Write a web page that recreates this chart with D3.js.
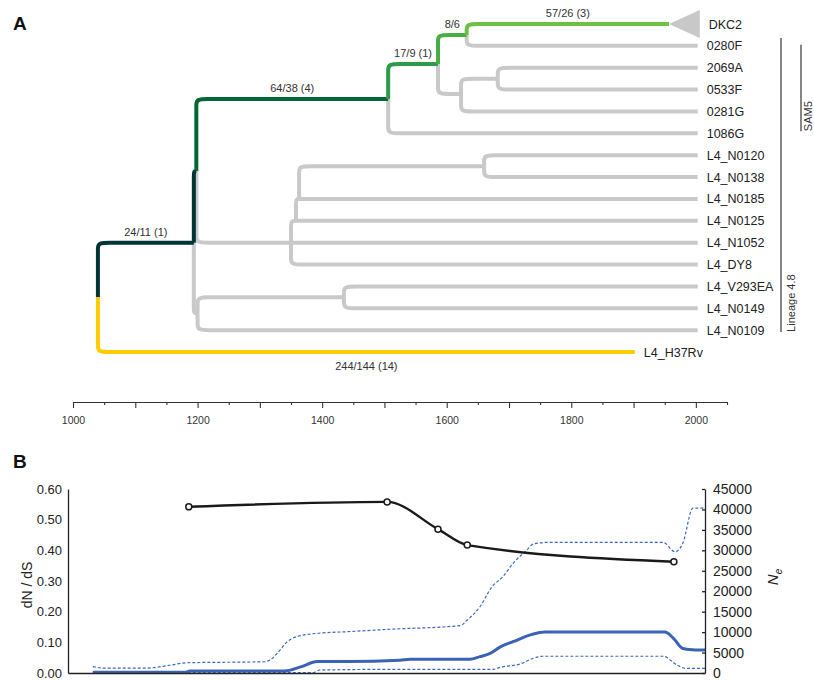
<!DOCTYPE html>
<html>
<head>
<meta charset="utf-8">
<script src="https://cdn.jsdelivr.net/npm/d3@7"></script>
<style>
  body { margin: 0; background: #fff; }
  svg { font-family: "Liberation Sans", Arial, Helvetica, sans-serif; }
</style>
</head>
<body>
<div id="chart"></div>
<script>
// ---- panel A data ----
// tree nodes: id, parent, year of node, row (leaf rows 0..15, internal rows)
const treeNodes = [
  ["R", null, 1040, 12.5],
  ["A", "R", 1194, 10],
  ["A2", "A", 1198, 6.72],
  ["S", "A2", 1506, 3.43],
  ["C437", "S", 1586, 1.83],
  ["C466", "C437", 1632, 0.5],
  ["DKC2", "C466", 1957, 0],
  ["0280F", "C466", 2003, 1],
  ["C461", "C437", 1623, 3.2],
  ["C495", "C461", 1682, 2.5],
  ["2069A", "C495", 2003, 2],
  ["0533F", "C495", 2003, 3],
  ["0281G", "C461", 2003, 4],
  ["1086G", "S", 2003, 5],
  ["E1", "A2", 1350, 10],
  ["E2", "E1", 1358, 9],
  ["E3", "E2", 1363, 8],
  ["NN", "E3", 1660, 6.5],
  ["L4_N0120", "NN", 2003, 6],
  ["L4_N0138", "NN", 2003, 7],
  ["L4_N0185", "E3", 2003, 8],
  ["L4_N0125", "E2", 2003, 9],
  ["L4_N1052", "E1", 2003, 10],
  ["L4_DY8", "E1", 2003, 11],
  ["W", "A", 1200, 13.25],
  ["V", "W", 1435, 12.5],
  ["L4_V293EA", "V", 2003, 12],
  ["L4_N0149", "V", 2003, 13],
  ["L4_N0109", "W", 2003, 14],
  ["L4_H37Rv", "R", 1902, 15]
];
const collapsedTip = "DKC2";
const collapsedEnd = 2003;

// branches on the path to DKC2 (and the outgroup) with their colour and dN/dS counts
const branchIds = ["A", "A2", "S", "C437", "C466", "DKC2", "L4_H37Rv"];
const branchColors = ["#003535", "#003535", "#006633", "#2f9a48", "#48ad46", "#6dbf45", "#ffcc00"];
const branchLabels = ["24/11 (1)", "", "64/38 (4)", "17/9 (1)", "8/6", "57/26 (3)", "244/144 (14)"];

const cladeNames = ["Lineage 4.8", "SAM5"];
const cladeRows = [[0.64, 14.08], [0.95, 4.9]];

const yearTicks = d3.range(1000, 2051, 50);

// ---- panel B data ----
const dndsYears = [1194, 1506, 1586, 1632, 1957];
const dndsValues = [0.542, 0.558, 0.469, 0.417, 0.363];

const neMedian = [[1043, 200], [1188, 200], [1196, 500], [1345, 500], [1370, 1500], [1396, 2800],
  [1443, 2800], [1526, 3100], [1542, 3350], [1636, 3350], [1652, 4000], [1668, 4800], [1684, 6400],
  [1704, 7650], [1734, 9450], [1754, 10000], [1943, 10000], [1956, 8550], [1971, 6000], [1987, 5700], [2006, 5600]];
const neUpper = [[1043, 1550], [1062, 1200], [1128, 1200], [1164, 1900], [1191, 2500], [1311, 2750],
  [1322, 3200], [1333, 4800], [1349, 7650], [1364, 8900], [1396, 9700], [1443, 10100], [1511, 10700],
  [1621, 11600], [1632, 12950], [1652, 16200], [1671, 21100], [1688, 23550], [1704, 26800], [1726, 30100],
  [1736, 31550], [1758, 31950], [1940, 31950], [1959, 29650], [1971, 31700], [1987, 40300], [2006, 40300]];
const neLower = [[1043, 100], [1389, 100], [1400, 730], [1526, 900], [1673, 900], [1684, 1400],
  [1715, 2200], [1736, 3600], [1751, 4100], [1940, 4100], [1962, 1950], [1975, 1150], [2006, 1150]];

const leftTicks = [0, 0.1, 0.2, 0.3, 0.4, 0.5, 0.6];
const rightTicks = d3.range(0, 45001, 5000);

// ---- svg ----
const svg = d3.select("#chart").append("svg")
  .attr("width", 814)
  .attr("height", 682);

svg.append("text").attr("x", 13).attr("y", 30)
  .style("font-size", "19px").style("font-weight", "bold").attr("fill", "#111").text("A");
svg.append("text").attr("x", 13).attr("y", 468)
  .style("font-size", "19px").style("font-weight", "bold").attr("fill", "#111").text("B");

// scales for the tree
const xA = d3.scaleLinear().domain([1000, 2050]).range([73, 727]);
const yA = d3.scaleLinear().domain([0, 15]).range([24, 352]);

const nodes = new Map(treeNodes.map(d => [d[0], { id: d[0], parent: d[1], year: d[2], row: d[3] }]));
nodes.forEach(n => { n.isTip = !treeNodes.some(d => d[1] === n.id); });

// elbow link with softened corner
function elbow(p, c) {
  const px = xA(p.year), py = yA(p.row), cx = xA(c.year), cy = yA(c.row);
  const dy = cy - py;
  if (Math.abs(dy) < 0.5) return `M${px},${cy}H${cx}`;
  const s = Math.sign(dy);
  const rv = Math.min(6, Math.abs(dy));
  const rh = Math.min(12, (cx - px) * 0.9);
  return `M${px},${py}V${cy - s * rv}C${px},${cy - s * rv * 0.15} ${px + rh * 0.15},${cy} ${px + rh},${cy}H${cx}`;
}

const links = [...nodes.values()].filter(n => n.parent).map(n => {
  const i = branchIds.indexOf(n.id);
  return { p: nodes.get(n.parent), c: n, color: i >= 0 ? branchColors[i] : "#c9c9c9", label: i >= 0 ? branchLabels[i] : "", colored: i >= 0 };
});
links.sort((a, b) => a.colored - b.colored);

const tree = svg.append("g");

// collapsed clade triangle
const dk = nodes.get(collapsedTip);
tree.append("path")
  .attr("d", `M${xA(dk.year)},${yA(dk.row)}L${xA(collapsedEnd) + 2},${yA(dk.row) - 14}L${xA(collapsedEnd) + 2},${yA(dk.row) + 14}Z`)
  .attr("fill", "#c8c8c8");

tree.selectAll("path.link")
  .data(links)
  .join("path")
  .attr("class", "link")
  .attr("d", d => elbow(d.p, d.c))
  .attr("fill", "none")
  .attr("stroke", d => d.color)
  .attr("stroke-width", 4)
  .attr("stroke-linecap", "butt");

// branch labels
tree.selectAll("text.blab")
  .data(links.filter(d => d.label))
  .join("text")
  .attr("class", "blab")
  .attr("x", d => (xA(d.p.year) + xA(d.c.year)) / 2)
  .attr("y", d => d.c.id === "L4_H37Rv" ? yA(d.c.row) + 18 : yA(d.c.row) - 7)
  .attr("text-anchor", "middle")
  .attr("fill", "#333")
  .style("font-size", "11px")
  .text(d => d.label);

// tip labels
tree.selectAll("text.tip")
  .data([...nodes.values()].filter(n => n.isTip))
  .join("text")
  .attr("class", "tip")
  .attr("x", d => d.id === collapsedTip ? xA(collapsedEnd) + 11 : xA(d.year) + 9)
  .attr("y", d => yA(d.row))
  .attr("dy", "0.36em")
  .attr("fill", "#222")
  .style("font-size", "12.5px")
  .text(d => d.id);

// clade bars
const cladeX = [781, 801];
const cladeTextGap = [14, 11];
cladeNames.forEach((name, i) => {
  const y0 = yA(cladeRows[i][0]), y1 = yA(cladeRows[i][1]);
  tree.append("line")
    .attr("x1", cladeX[i]).attr("x2", cladeX[i]).attr("y1", y0).attr("y2", y1)
    .attr("stroke", "#444").attr("stroke-width", 1.3);
  tree.append("text")
    .attr("transform", `translate(${cladeX[i] + cladeTextGap[i]},${y1}) rotate(-90)`)
    .attr("fill", "#333")
    .style("font-size", "11px")
    .text(name);
});

// time axis of panel A
const axA = svg.append("g").attr("transform", "translate(0,402)");
axA.call(d3.axisBottom(xA)
  .tickValues(yearTicks)
  .tickSizeOuter(0)
  .tickSize(0)
  .tickFormat(d => d % 200 === 0 ? d : ""));
axA.selectAll(".tick line").attr("y2", d => d % 100 === 0 ? 6 : 3);
axA.selectAll(".tick text").attr("dy", 0).attr("y", 22).style("font-size", "10.5px").attr("fill", "#333")
  .style("font-family", "'Liberation Sans', Arial, sans-serif");
axA.selectAll("path, line").attr("stroke", "#333").attr("stroke-width", 1.1);

// ---- panel B ----
const xB = d3.scaleLinear().domain([1004, 2006]).range([68, 705]);
const yL = d3.scaleLinear().domain([0, 0.6]).range([673, 489]);
const yR = d3.scaleLinear().domain([0, 45000]).range([673, 489]);

const gB = svg.append("g");

const neLine = d3.line().x(d => xB(d[0])).y(d => yR(d[1])).curve(d3.curveMonotoneX);

gB.append("path").datum(neUpper).attr("d", neLine)
  .attr("fill", "none").attr("stroke", "#3d68bd").attr("stroke-width", 1.2).attr("stroke-dasharray", "3,2");
gB.append("path").datum(neLower).attr("d", neLine)
  .attr("fill", "none").attr("stroke", "#3d68bd").attr("stroke-width", 1.2).attr("stroke-dasharray", "3,2");
gB.append("path").datum(neMedian).attr("d", neLine)
  .attr("fill", "none").attr("stroke", "#3a63b5").attr("stroke-width", 3);

const dnds = dndsYears.map((y, i) => [y, dndsValues[i]]);
gB.append("path").datum(dnds)
  .attr("d", d3.line().x(d => xB(d[0])).y(d => yL(d[1])).curve(d3.curveMonotoneX))
  .attr("fill", "none").attr("stroke", "#1a1a1a").attr("stroke-width", 2.4);
gB.selectAll("circle")
  .data(dnds)
  .join("circle")
  .attr("cx", d => xB(d[0]))
  .attr("cy", d => yL(d[1]))
  .attr("r", 3)
  .attr("fill", "#fff")
  .attr("stroke", "#1a1a1a")
  .attr("stroke-width", 1.5);

// axes
const axL = gB.append("g").attr("transform", "translate(68,0)")
  .call(d3.axisLeft(yL).tickValues(leftTicks).tickSize(0).tickPadding(6).tickFormat(d3.format(".2f")));
const axR = gB.append("g").attr("transform", "translate(705,0)")
  .call(d3.axisRight(yR).tickValues(rightTicks).tickSizeInner(-3).tickSizeOuter(0).tickPadding(8).tickFormat(d3.format("d")));
const axB = gB.append("g").attr("transform", "translate(0,673)")
  .call(d3.axisBottom(xB).tickValues([]).tickSizeOuter(0));

[axL, axR, axB].forEach(a => {
  a.selectAll("path, line").attr("stroke", "#222").attr("stroke-width", 1.3);
  a.selectAll("text").style("font-size", "13px").attr("fill", "#222")
    .style("font-family", "'Liberation Sans', Arial, sans-serif");
});
axR.selectAll("text").style("font-size", "14px");

gB.append("text")
  .attr("transform", "translate(32,585) rotate(-90)")
  .attr("text-anchor", "middle")
  .attr("fill", "#222")
  .style("font-size", "14px")
  .text("dN / dS");

const neLab = gB.append("text")
  .attr("transform", "translate(778,577) rotate(-90)")
  .attr("text-anchor", "middle")
  .attr("fill", "#222")
  .style("font-size", "15px")
  .style("font-style", "italic");
neLab.append("tspan").text("N");
neLab.append("tspan").attr("dy", 4).style("font-size", "10px").text("e");
</script>
</body>
</html>
